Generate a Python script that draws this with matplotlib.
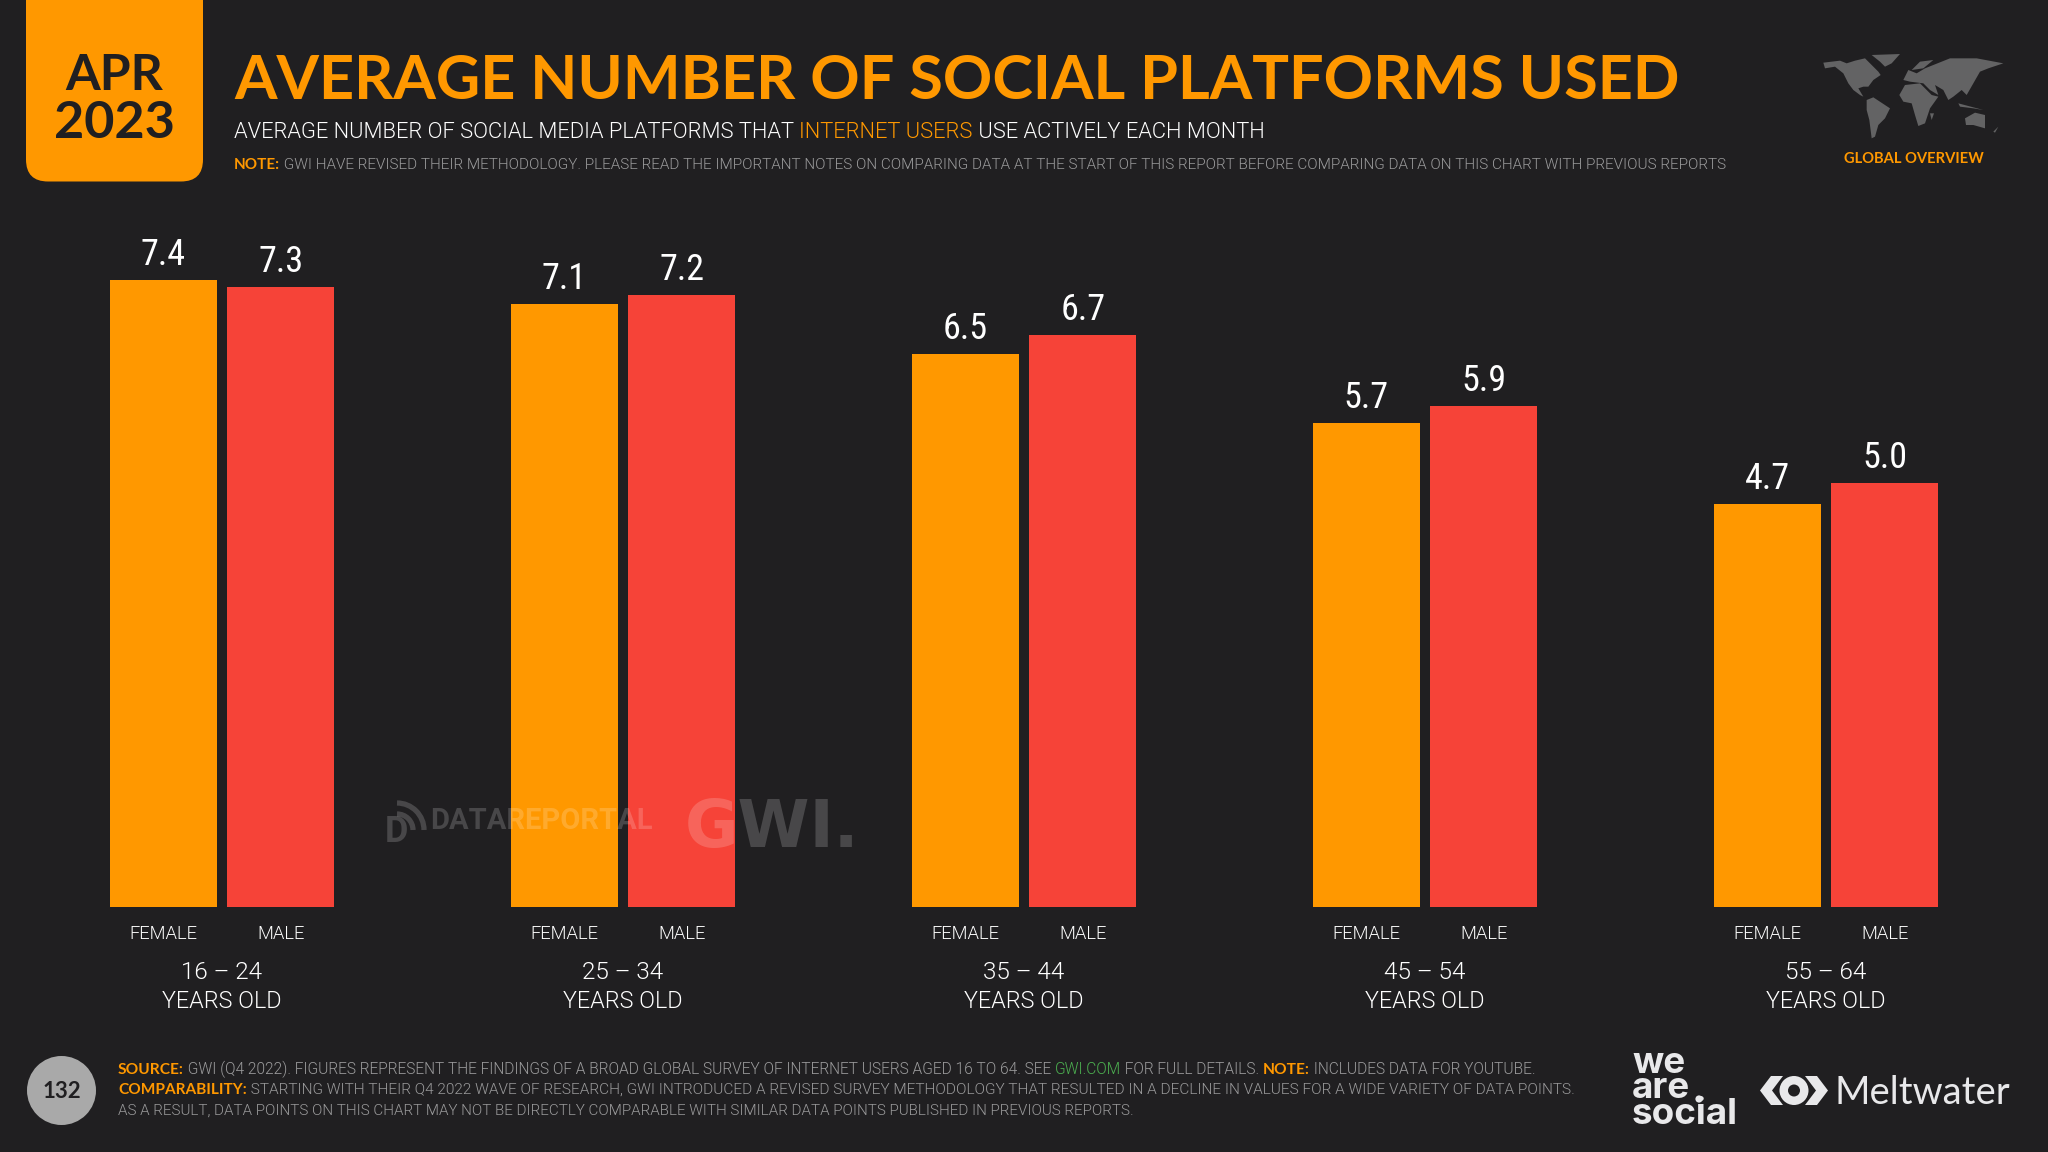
import matplotlib
matplotlib.use("Agg")
import matplotlib.pyplot as plt
from matplotlib.patches import FancyBboxPatch, Circle, Polygon, Arc

# Data
age_groups = ["16 – 24", "25 – 34", "35 – 44", "45 – 54", "55 – 64"]
female = [7.38, 7.1, 6.51, 5.7, 4.74]
male = [7.3, 7.2, 6.73, 5.9, 4.99]

BG = "#201f21"
ORANGE = "#ff9800"
RED = "#f64338"
GREY = "#9a9a9b"
GREEN = "#4caf50"
WHITE = "#ffffff"
THIN = 300

plt.rcParams["font.family"] = ["Lato", "DejaVu Sans"]

fig = plt.figure(figsize=(20.48, 11.52), dpi=100, facecolor=BG)

# pixel canvas for everything that is not the chart
over = fig.add_axes([0, 0, 1, 1], zorder=2)
over.set_xlim(0, 2048)
over.set_ylim(1152, 0)
over.axis("off")

renderer = fig.canvas.get_renderer()


def font_of(weight):
    # Lato's light cut comes out as a hairline here, Roboto has a usable one
    if weight == THIN:
        return {"family": "Roboto", "fontweight": THIN}
    return {"fontweight": weight}


def text_width(s, size, weight):
    # the bar keeps trailing spaces from being dropped when measuring
    t = over.text(0, 0, s + "|", fontsize=size, **font_of(weight))
    b = over.text(0, 0, "|", fontsize=size, **font_of(weight))
    w = t.get_window_extent(renderer).width - b.get_window_extent(renderer).width
    t.remove()
    b.remove()
    return w


def draw_runs(x, y, runs, size, width):
    # runs of (text, colour, weight) on one baseline, sized to fill width
    # hinting makes width jump around with size, so go round a few times
    for _ in range(4):
        total = sum(text_width(r[0], size, r[2]) for r in runs)
        size = size * width / total
    for s, color, weight in runs:
        over.text(x, y, s, fontsize=size, color=color, va="baseline", ha="left", **font_of(weight))
        x += text_width(s, size, weight)


# Chart
chart = fig.add_axes([21.5 / 2048, (1152 - 906.5) / 1152, 2005 / 2048, 679 / 1152], zorder=1)
chart.patch.set_visible(False)
chart.set_xlim(-0.5, 4.5)
chart.set_ylim(0, 8)
for side in chart.spines.values():
    side.set_visible(False)
chart.yaxis.set_visible(False)

offset = 0.1465
bar_w = 0.2668
pos = list(range(len(age_groups)))
b1 = chart.bar([p - offset for p in pos], female, bar_w, color=ORANGE)
b2 = chart.bar([p + offset for p in pos], male, bar_w, color=RED)
for bars in (b1, b2):
    chart.bar_label(bars, fmt="%.1f", padding=5, color=WHITE, fontsize=26,
                    family="Roboto Condensed", fontweight="normal")

chart.set_xticks([p - offset for p in pos] + [p + offset for p in pos])
chart.set_xticklabels(["FEMALE"] * 5 + ["MALE"] * 5, color=WHITE, fontsize=13.2, **font_of(THIN))
chart.tick_params(axis="x", length=0, pad=23.4)
plt.setp(chart.get_xticklabels(), va="baseline")

for p, g in zip(pos, age_groups):
    chart.text(p, -0.854, g, color=WHITE, fontsize=17.5, ha="center", va="baseline", **font_of(THIN))
    chart.text(p, -1.196, "YEARS OLD", color=WHITE, fontsize=16.8, ha="center", va="baseline", **font_of(THIN))

# Header
over.add_patch(FancyBboxPatch((26, -40), 177, 221.5, boxstyle="round,pad=0,rounding_size=22",
                              fc=ORANGE, ec="none"))
over.text(114, 90, "APR", fontsize=36, fontweight="bold", color=BG, ha="center", va="baseline")
over.text(114, 138, "2023", fontsize=37.5, fontweight="bold", color=BG, ha="center", va="baseline")

draw_runs(234, 99, [("AVERAGE NUMBER OF SOCIAL PLATFORMS USED", ORANGE, "bold")], 46, 1445)
draw_runs(234, 138.5, [("AVERAGE NUMBER OF SOCIAL MEDIA PLATFORMS THAT ", WHITE, THIN),
                       ("INTERNET USERS", ORANGE, THIN),
                       (" USE ACTIVELY EACH MONTH", WHITE, THIN)], 16, 1029)
draw_runs(234, 169, [("NOTE:", ORANGE, "bold"),
                     (" GWI HAVE REVISED THEIR METHODOLOGY. PLEASE READ THE IMPORTANT NOTES ON COMPARING DATA "
                      "AT THE START OF THIS REPORT BEFORE COMPARING DATA ON THIS CHART WITH PREVIOUS REPORTS",
                      GREY, THIN)], 12, 1493)

# World map, rough outline
map_shapes = [
    [(40, 68), (90, 62), (110, 70), (135, 62), (165, 55), (185, 75), (205, 95), (212, 105), (190, 120),
     (175, 140), (160, 140), (145, 145), (160, 170), (150, 165), (130, 150), (115, 130), (100, 100),
     (75, 80), (45, 85)],
    [(185, 45), (270, 42), (245, 70), (225, 80), (210, 65)],
    [(170, 180), (190, 172), (240, 205), (225, 235), (205, 255), (195, 290), (185, 295), (178, 240), (170, 210)],
    [(268, 165), (285, 135), (330, 130), (365, 165), (385, 170), (360, 205), (345, 250), (325, 258),
     (315, 225), (305, 190), (280, 185)],
    [(280, 120), (295, 90), (320, 100), (345, 85), (420, 55), (500, 55), (580, 70), (535, 85), (510, 95),
     (490, 130), (470, 165), (455, 150), (430, 170), (415, 180), (400, 150), (375, 135), (385, 165),
     (360, 150), (340, 130), (300, 125)],
    [(305, 90), (330, 65), (370, 60), (340, 85)],
    [(465, 235), (495, 218), (525, 225), (525, 265), (490, 255), (468, 255)],
    [(445, 190), (520, 210), (490, 205), (450, 200)],
    [(360, 220), (372, 220), (365, 240)],
    [(550, 275), (565, 260), (555, 278)],
]
for shape in map_shapes:
    over.add_patch(Polygon([(1810 + a / 3, 40 + b / 3) for a, b in shape], fc="#636364", ec="none"))
draw_runs(1844, 163, [("GLOBAL OVERVIEW", ORANGE, "bold")], 11, 139)

# Watermarks
over.text(430, 829, "DATAREPORTAL", fontsize=21, fontweight="bold", family="Roboto", color=WHITE, alpha=0.18,
          va="baseline")
over.text(685, 847, "GWI.", fontsize=47, fontweight="bold", family="DejaVu Sans", color=WHITE, alpha=0.18,
          va="baseline")
over.text(385, 842, "D", fontsize=26, fontweight="bold", family="Roboto", color=WHITE, alpha=0.18, va="baseline")
for r in (27, 16):
    over.add_patch(Arc((397, 830), 2 * r, 2 * r, theta1=270, theta2=360, ec=WHITE, lw=3.8, alpha=0.18))

# Footer
over.add_patch(Circle((61.5, 1090.5), 34.5, fc="#a9a9a9", ec="none"))
over.text(61.5, 1098, "132", fontsize=16, fontweight="bold", color=BG, ha="center", va="baseline")

draw_runs(118, 1074, [("SOURCE:", ORANGE, "bold"),
                      (" GWI (Q4 2022). FIGURES REPRESENT THE FINDINGS OF A BROAD GLOBAL SURVEY OF INTERNET USERS "
                       "AGED 16 TO 64. SEE ", GREY, THIN),
                      ("GWI.COM", GREEN, THIN),
                      (" FOR FULL DETAILS. ", GREY, THIN),
                      ("NOTE:", ORANGE, "bold"),
                      (" INCLUDES DATA FOR YOUTUBE.", GREY, THIN)], 11, 1419)
draw_runs(118, 1094, [("COMPARABILITY:", ORANGE, "bold"),
                      (" STARTING WITH THEIR Q4 2022 WAVE OF RESEARCH, GWI INTRODUCED A REVISED SURVEY METHODOLOGY "
                       "THAT RESULTED IN A DECLINE IN VALUES FOR A WIDE VARIETY OF DATA POINTS.", GREY, THIN)],
          11, 1461)
draw_runs(118, 1115, [("AS A RESULT, DATA POINTS ON THIS CHART MAY NOT BE DIRECTLY COMPARABLE WITH SIMILAR DATA POINTS "
                       "PUBLISHED IN PREVIOUS REPORTS.", GREY, THIN)], 11, 1007)

# Logos
LOGO = "#e8e8ea"
over.text(1632, 1124, "we\nare\nsocial", fontsize=26.5, fontweight="bold", family="Inter", color=LOGO,
          va="baseline", linespacing=0.72)
over.add_patch(Circle((1699, 1099), 3.6, fc=LOGO, ec="none"))

over.add_patch(Polygon([(1760, 1090.5), (1771, 1076), (1783, 1076), (1772, 1090.5), (1783, 1105), (1771, 1105)],
                       fc=LOGO, ec="none"))
over.add_patch(Polygon([(1828, 1090.5), (1817, 1076), (1805, 1076), (1816, 1090.5), (1805, 1105), (1817, 1105)],
                       fc=LOGO, ec="none"))
over.add_patch(Circle((1794, 1090.5), 14.5, fc=LOGO, ec="none"))
over.add_patch(Circle((1794, 1090.5), 6, fc=BG, ec="none"))
draw_runs(1834, 1104, [("Meltwater", LOGO, "normal")], 28, 176)

fig.savefig("out.png", dpi=100, facecolor=BG)
print("saved out.png")
